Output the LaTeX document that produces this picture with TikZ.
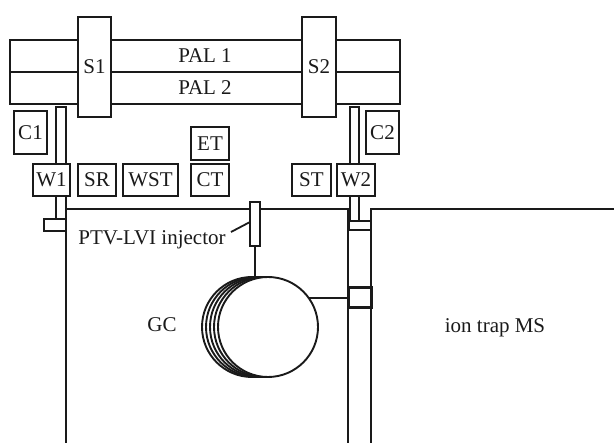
\documentclass[tikz,border=0pt]{standalone}
\usepackage{fontspec}
\setmainfont{Liberation Serif}
\newcommand{\bx}[7][]{\node[bxs,#1,minimum width={#4-#2},minimum height={#5-#3}] (#6) at ({(#2+#4)/2},{(#3+#5)/2}) {#7};}
\definecolor{ink}{HTML}{1A1A1A}
\tikzset{
 bxs/.style={draw=ink,fill=white,line width=2.3pt,inner sep=0pt,outer sep=0pt,font=\fontsize{21}{23}\selectfont,text=ink},
 thin line/.style={draw=ink,line width=1.8pt},
 thick line/.style={draw=ink,line width=2.3pt},
 coil/.style={draw=ink,fill=white,line width=1.9pt,circle,minimum size=100pt,inner sep=0pt,outer sep=0pt},
 lbl/.style={font=\fontsize{21}{23}\selectfont,text=ink,inner sep=0pt}
}
\begin{document}
\begin{tikzpicture}[x=1pt,y=-1pt]
\useasboundingbox (0,0) rectangle (614,443);
\coordinate (gcb) at (66,443);
\coordinate (gct) at (66,209);
\coordinate (gcr) at (348,209);
\coordinate (gcrb) at (348,443);
\coordinate (mst) at (371,209);
\coordinate (msb) at (371,443);
\coordinate (msr) at (614,209);
\draw[thick line] (gcb) -- (gct) -- (gcr) -- (gcrb);
\draw[thick line] (msb) -- (mst) -- (msr);
\bx{56}{107}{66}{219}{tube1}{}
\bx{350}{107}{359}{221}{tube2}{}
\bx{44}{219}{66}{231}{foot1}{}
\bx{349}{221}{371}{230}{foot2}{}
\bx{10}{40}{400}{72}{pal1}{PAL 1}
\bx{10}{72}{400}{104}{pal2}{PAL 2}
\bx{78}{17}{111}{117}{s1}{S1}
\bx{302}{17}{336}{117}{s2}{S2}
\bx{14}{111}{47}{154}{c1}{C1}
\bx{366}{111}{399}{154}{c2}{C2}
\bx{33}{164}{70}{196}{w1}{W1}
\bx{78}{164}{116}{196}{sr}{SR}
\bx{123}{164}{178}{196}{wst}{WST}
\bx{191}{127}{229}{160}{et}{ET}
\bx{191}{164}{229}{196}{ct}{CT}
\bx{292}{164}{331}{196}{st}{ST}
\bx{337}{164}{375}{196}{w2}{W2}
\bx{250}{202}{260}{246}{inj}{}
\node[lbl] (injl) at (152,240) {PTV-LVI injector};
\coordinate (lead) at (231,232);
\draw[thin line] (lead) -- (inj.west |- 0,222);
\node[coil] (c4) at (252,327) {};
\node[coil] (c3) at (256,327) {};
\node[coil] (c2b) at (260,327) {};
\node[coil] (c1b) at (264,327) {};
\node[coil] (c0) at (268,327) {};
\draw[thin line] (inj.south) -- (inj.south |- c0.north);
\bx[line width=3pt]{348}{288}{371}{308}{tl}{}
\draw[thin line] (c0.35.4) -- (tl.west |- c0.35.4);
\node[lbl] (gc) at (162,325) {GC};
\node[lbl] (ms) at (495,328) {ion trap MS};
\end{tikzpicture}
\end{document}
